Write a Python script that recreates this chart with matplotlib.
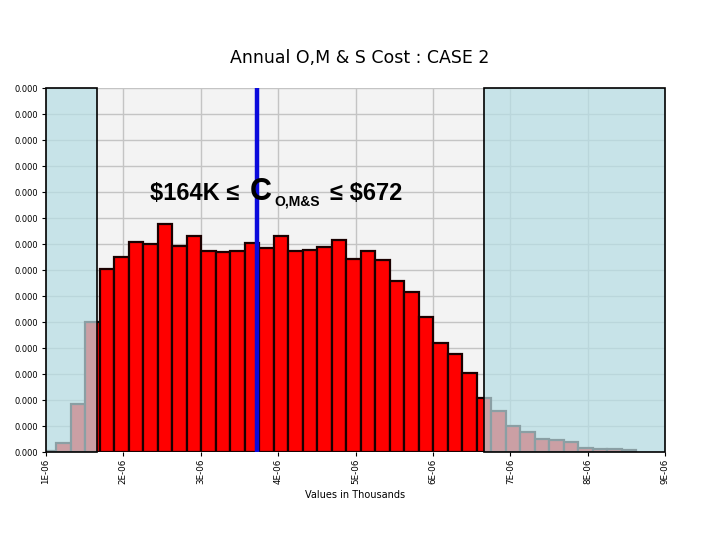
import numpy as np
import matplotlib
matplotlib.use("Agg")
import matplotlib.pyplot as plt
from matplotlib.patches import Rectangle

# ---- data ----
title = "Annual O,M & S Cost : CASE 2"
xlabel = "Values in Thousands"
bin_lo = 0.948          # left edge of first bin (x axis units of 1E-06)
bin_width = 0.1873
heights = [0.05, 0.33, 1.83, 5.01, 7.04, 7.51, 8.09, 8.01, 8.77, 7.94,
           8.32, 7.74, 7.68, 7.74, 8.03, 7.86, 8.32, 7.73, 7.78, 7.88,
           8.15, 7.44, 7.73, 7.38, 6.59, 6.17, 5.21, 4.21, 3.77, 3.05,
           2.09, 1.59, 1.01, 0.78, 0.51, 0.46, 0.40, 0.14, 0.10, 0.10, 0.09]
range_low = 1.655
range_high = 6.665
mean_line = 3.723
x_ticks = [1, 2, 3, 4, 5, 6, 7, 8, 9]
x_tick_labels = ["1E-06", "2E-06", "3E-06", "4E-06", "5E-06",
                 "6E-06", "7E-06", "8E-06", "9E-06"]
y_ticks = list(range(0, 15))
y_tick_labels = ["0.000"] * 15

# ---- figure ----
W, H = 720, 540
fig = plt.figure(figsize=(7.2, 5.4), dpi=100)
fig.patch.set_facecolor("white")
ax = fig.add_axes([46 / W, 1 - 452 / H, (665 - 46) / W, (452 - 88) / H])
ax.set_facecolor("#f3f3f3")
ax.set_xlim(1, 9)
ax.set_ylim(0, 14)

ax.set_axisbelow(True)
ax.grid(True, color="#c4c4c4", linewidth=1.0)

n = len(heights)
lefts = bin_lo + bin_width * np.arange(n)
ax.bar(lefts, heights, width=bin_width, align="edge",
       color="#ff0000", edgecolor="#1a0000", linewidth=1.6, zorder=2)

shade = (0.718, 0.871, 0.894, 0.72)
for x0, x1 in [(1, range_low), (range_high, 9)]:
    ax.add_patch(Rectangle((x0, 0), x1 - x0, 14, facecolor=shade,
                           edgecolor="black", linewidth=1.2, zorder=3,
                           clip_on=False))

ax.axvline(mean_line, color="#0a0adc", linewidth=3.2, zorder=4)

for s in ax.spines.values():
    s.set_visible(False)

ax.set_xticks(x_ticks)
ax.set_xticklabels(x_tick_labels, rotation=90, fontsize=6.3)
ax.set_yticks(y_ticks)
ax.set_yticklabels(y_tick_labels, fontsize=6)
ax.tick_params(axis="y", length=3, width=0.8, pad=3)
ax.tick_params(axis="x", length=3, width=0.8, pad=2)
ax.set_xlabel(xlabel, fontsize=7, labelpad=4)

fig.text(360 / W, 1 - 58 / H, title, ha="center", va="center", fontsize=12.5)

# annotation
bold = dict(family="Liberation Sans", weight="bold", color="black",
            parse_math=False)
fig.text(150 / W, 1 - 200 / H, "$164K \u2264", ha="left", va="baseline",
         fontsize=17, **bold)
fig.text(250 / W, 1 - 200 / H, "C", ha="left", va="baseline",
         fontsize=22, **bold)
fig.text(274 / W, 1 - 206 / H, "O,M&S", ha="left", va="baseline",
         fontsize=10, **bold)
fig.text(330 / W, 1 - 200 / H, "\u2264 $672", ha="left", va="baseline",
         fontsize=17, **bold)

fig.savefig("out.png", dpi=100)
